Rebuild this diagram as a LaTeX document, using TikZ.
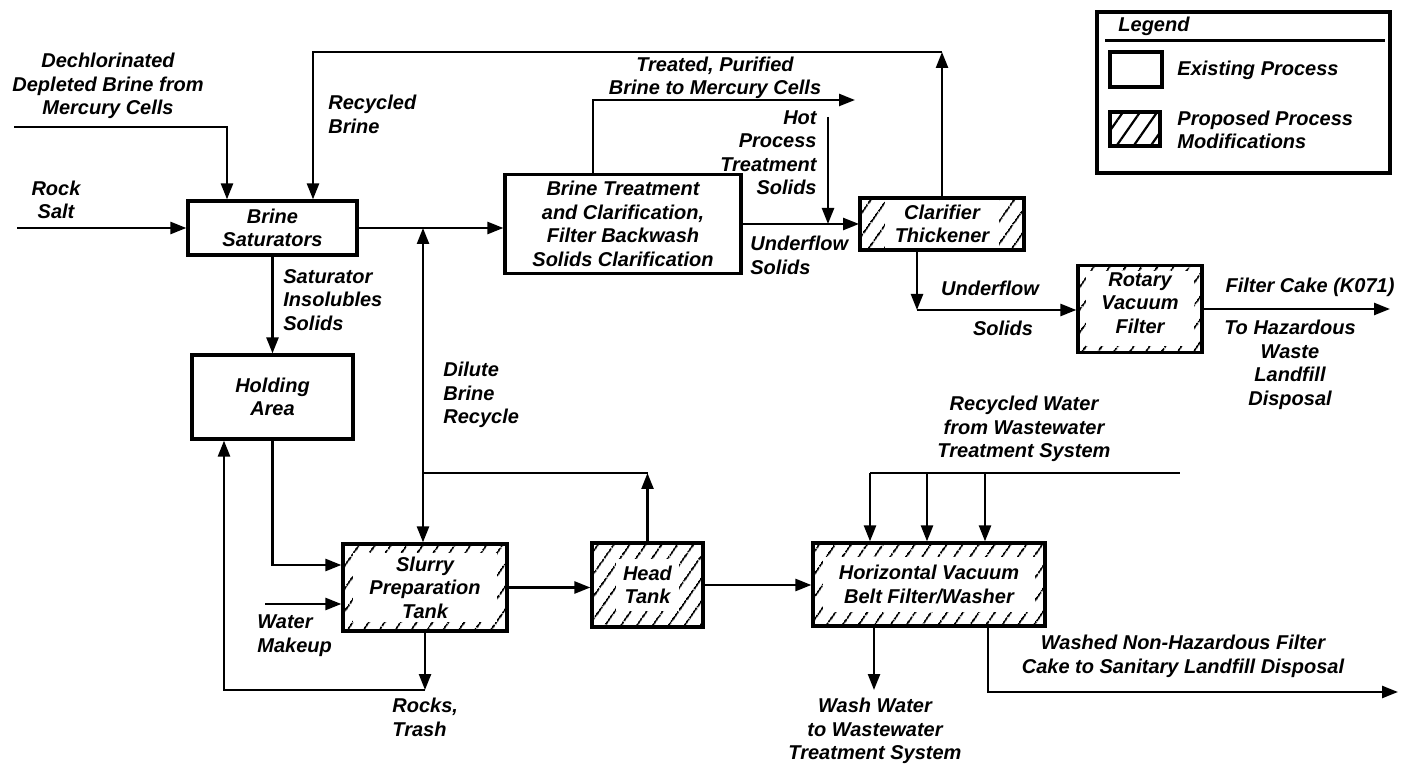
\documentclass[tikz,border=0pt]{standalone}
\usepackage{fontspec}
\setmainfont{Liberation Sans}
\usetikzlibrary{arrows.meta,patterns.meta}
\tikzset{
  lbl/.style={font=\fontsize{10}{11.75}\selectfont\bfseries\itshape, align=center, inner sep=0pt},
  box/.style={draw, line width=1.6pt, inner sep=0pt, lbl},
  hatch/.style={pattern={Lines[angle=55,distance=6.5pt,line width=0.95pt]}},
  inset/.style 2 args={path picture={\fill[white] ([shift={(#1,#2)}]path picture bounding box.south west) rectangle ([shift={(-#1,-#2)}]path picture bounding box.north east);}},
  conn/.style={line width=1.2pt},
  arr/.style={line width=1.2pt, -{Triangle[length=8pt,width=6pt]}},
  dbl/.style={line width=1.2pt, {Triangle[length=8pt,width=6pt]}-{Triangle[length=8pt,width=6pt]}},
}
\begin{document}
\begin{tikzpicture}[x=0.5pt,y=-0.5pt]
\useasboundingbox (0,0) rectangle (1409,764);
\fill[white] (0,0) rectangle (1409,764);

% boxes
\node[box, minimum width=84.5pt, minimum height=27pt] (sat) at (272.5,228) {Brine\\Saturators};
\node[box, minimum width=118pt, minimum height=49.5pt] (treat) at (623,224) {Brine Treatment\\and Clarification,\\Filter Backwash\\Solids Clarification};
\node[box, hatch, inset={12.5pt}{1pt}, minimum width=82pt, minimum height=26pt] (clar) at (942,224) {Clarifier\\Thickener};
\node[box, hatch, inset={4pt}{3pt}, minimum width=62pt, minimum height=43.5pt] (rot) at (1140,309) {};
\node[lbl] (rotT) at (1140,303) {Rotary\\Vacuum\\Filter};
\node[box, minimum width=80.5pt, minimum height=42pt] (hold) at (272.5,397) {Holding\\Area};
\node[box, hatch, inset={5pt}{4.5pt}, minimum width=82pt, minimum height=43.5pt] (slurry) at (425,587.5) {Slurry\\Preparation\\Tank};
\node[box, hatch, inset={12pt}{8pt}, minimum width=55.5pt, minimum height=42pt] (head) at (647.5,585) {Head\\Tank};
\node[box, hatch, inset={5pt}{7pt}, minimum width=116pt, minimum height=41.5pt] (horiz) at (929,584.5) {Horizontal Vacuum\\Belt Filter/Washer};

% legend
\node[draw, line width=1.6pt, minimum width=146.5pt, minimum height=80.5pt, inner sep=0pt] (legend) at (1243.5,92.5) {};
\node[lbl, anchor=west] (legT) at (1118,26) {Legend};
\draw[conn] ([xshift=5pt,yshift=-15pt]legend.north west) -- ([xshift=-3.5pt,yshift=-15pt]legend.north east);
\node[draw, line width=1.6pt, minimum width=26pt, minimum height=17.5pt, inner sep=0pt] (legE) at (1136,69.5) {};
\node[lbl, anchor=west] (legEt) at (1177,70) {Existing Process};
\node[draw, line width=1.6pt, minimum width=25pt, minimum height=17pt, inner sep=0pt, pattern={Lines[angle=55,distance=7pt,line width=1.1pt]}] (legP) at (1135,129) {};
\node[lbl, anchor=west, align=left] (legPt) at (1177,130) {Proposed Process\\Modifications};

% labels
\node[lbl] (tDech) at (108,86) {Dechlorinated\\Depleted Brine from\\Mercury Cells};
\node[lbl] (tRock) at (56,200) {Rock\\Salt};
\node[lbl, anchor=west, align=left] (tRecB) at (328,114.5) {Recycled\\Brine};
\node[lbl, anchor=west, align=left] (tSatI) at (283,300) {Saturator\\Insolubles\\Solids};
\node[lbl] (tTreated) at (715,78) {Treated, Purified\\Brine to Mercury Cells};
\node[lbl, anchor=east, align=right] (tHot) at (817,152.5) {Hot\\Process\\Treatment\\Solids};
\node[lbl, anchor=west, align=left] (tUf1) at (750,255.5) {Underflow\\Solids};
\node[lbl] (tUf2a) at (990,288) {Underflow};
\node[lbl] (tUf2b) at (1003,328) {Solids};
\node[lbl] (tFC) at (1310,287) {Filter Cake (K071)};
\node[lbl] (tHaz) at (1290,365) {To Hazardous\\Waste\\Landfill\\Disposal};
\node[lbl, anchor=west, align=left] (tDil) at (443,395) {Dilute\\Brine\\Recycle};
\node[lbl, anchor=west, align=left] (tWM) at (257,635.5) {Water\\Makeup};
\node[lbl, anchor=west, align=left] (tRT) at (392,717.5) {Rocks,\\Trash};
\node[lbl] (tRW) at (1024,429) {Recycled Water\\from Wastewater\\Treatment System};
\node[lbl] (tWW) at (875,731) {Wash Water\\to Wastewater\\Treatment System};
\node[lbl] (tWashed) at (1183,656.5) {Washed Non-Hazardous Filter\\Cake to Sanitary Landfill Disposal};

% coordinates
\coordinate (dcin) at (14,127);
\coordinate (dc1) at (227,127);
\coordinate (rsin) at (17,228);
\coordinate (rbL) at (313,52);
\coordinate (rbR) at (942,52);
\coordinate (dj) at (423,228);
\coordinate (hj) at (647.5,473);
\coordinate (wm) at (265,604);
\coordinate (rt) at (425,690);
\coordinate (rl) at (224,690);
\coordinate (rw1) at (870,473);
\coordinate (rw2) at (927,473);
\coordinate (rw3) at (985,473);
\coordinate (rwE) at (1180,473);
\coordinate (ww) at (874,690);
\coordinate (wa) at (988,692);
\coordinate (waE) at (1398,692);
\coordinate (tp) at (593,100);
\coordinate (tpE) at (855,100);
\coordinate (hp) at (828,117);
\coordinate (cu) at (917,310);
\coordinate (fcE) at (1390,310);

% connectors
\draw[arr] (dcin) -- (dc1) -- (dc1 |- sat.north);
\draw[arr] (rsin) -- (rsin -| sat.west);
\draw[arr] (clar.north) -- (rbR);
\draw[arr] (rbR) -- (rbL) -- (rbL |- sat.north);
\draw[arr] (sat.east) -- (sat.east -| treat.west);
\draw[dbl] (dj |- slurry.north) -- (dj);
\draw[arr] (head.north) -- (hj);
\draw[conn] (hj) -- (hj -| dj);
\draw[arr] (sat.south) -- (hold.north);
\draw[arr] (hold.south) |- ([yshift=11.25pt]slurry.west);
\draw[arr] (wm) -- (wm -| slurry.west);
\draw[arr] (slurry.south) -- (rt);
\draw[arr] (rt) -- (rl) -- (rl |- hold.south);
\draw[arr] (slurry.east) -- (slurry.east -| head.west);
\draw[arr] (head.east) -- (head.east -| horiz.west);
\draw[conn] (rw1) -- (rwE);
\draw[arr] (rw1) -- (rw1 |- horiz.north);
\draw[arr] (rw2) -- (rw2 |- horiz.north);
\draw[arr] (rw3) -- (rw3 |- horiz.north);
\draw[arr] (ww |- horiz.south) -- (ww);
\draw[arr] (wa |- horiz.south) -- (wa) -- (waE);
\draw[arr] (tp |- treat.north) -- (tp) -- (tpE);
\draw[arr] (hp) -- (hp |- clar.west);
\draw[arr] (treat.east) -- (treat.east -| clar.west);
\draw[arr] (cu |- clar.south) -- (cu);
\draw[arr] (cu) -- (cu -| rot.west);
\draw[arr] (rot.east) -- (rot.east -| fcE);
\end{tikzpicture}
\end{document}
